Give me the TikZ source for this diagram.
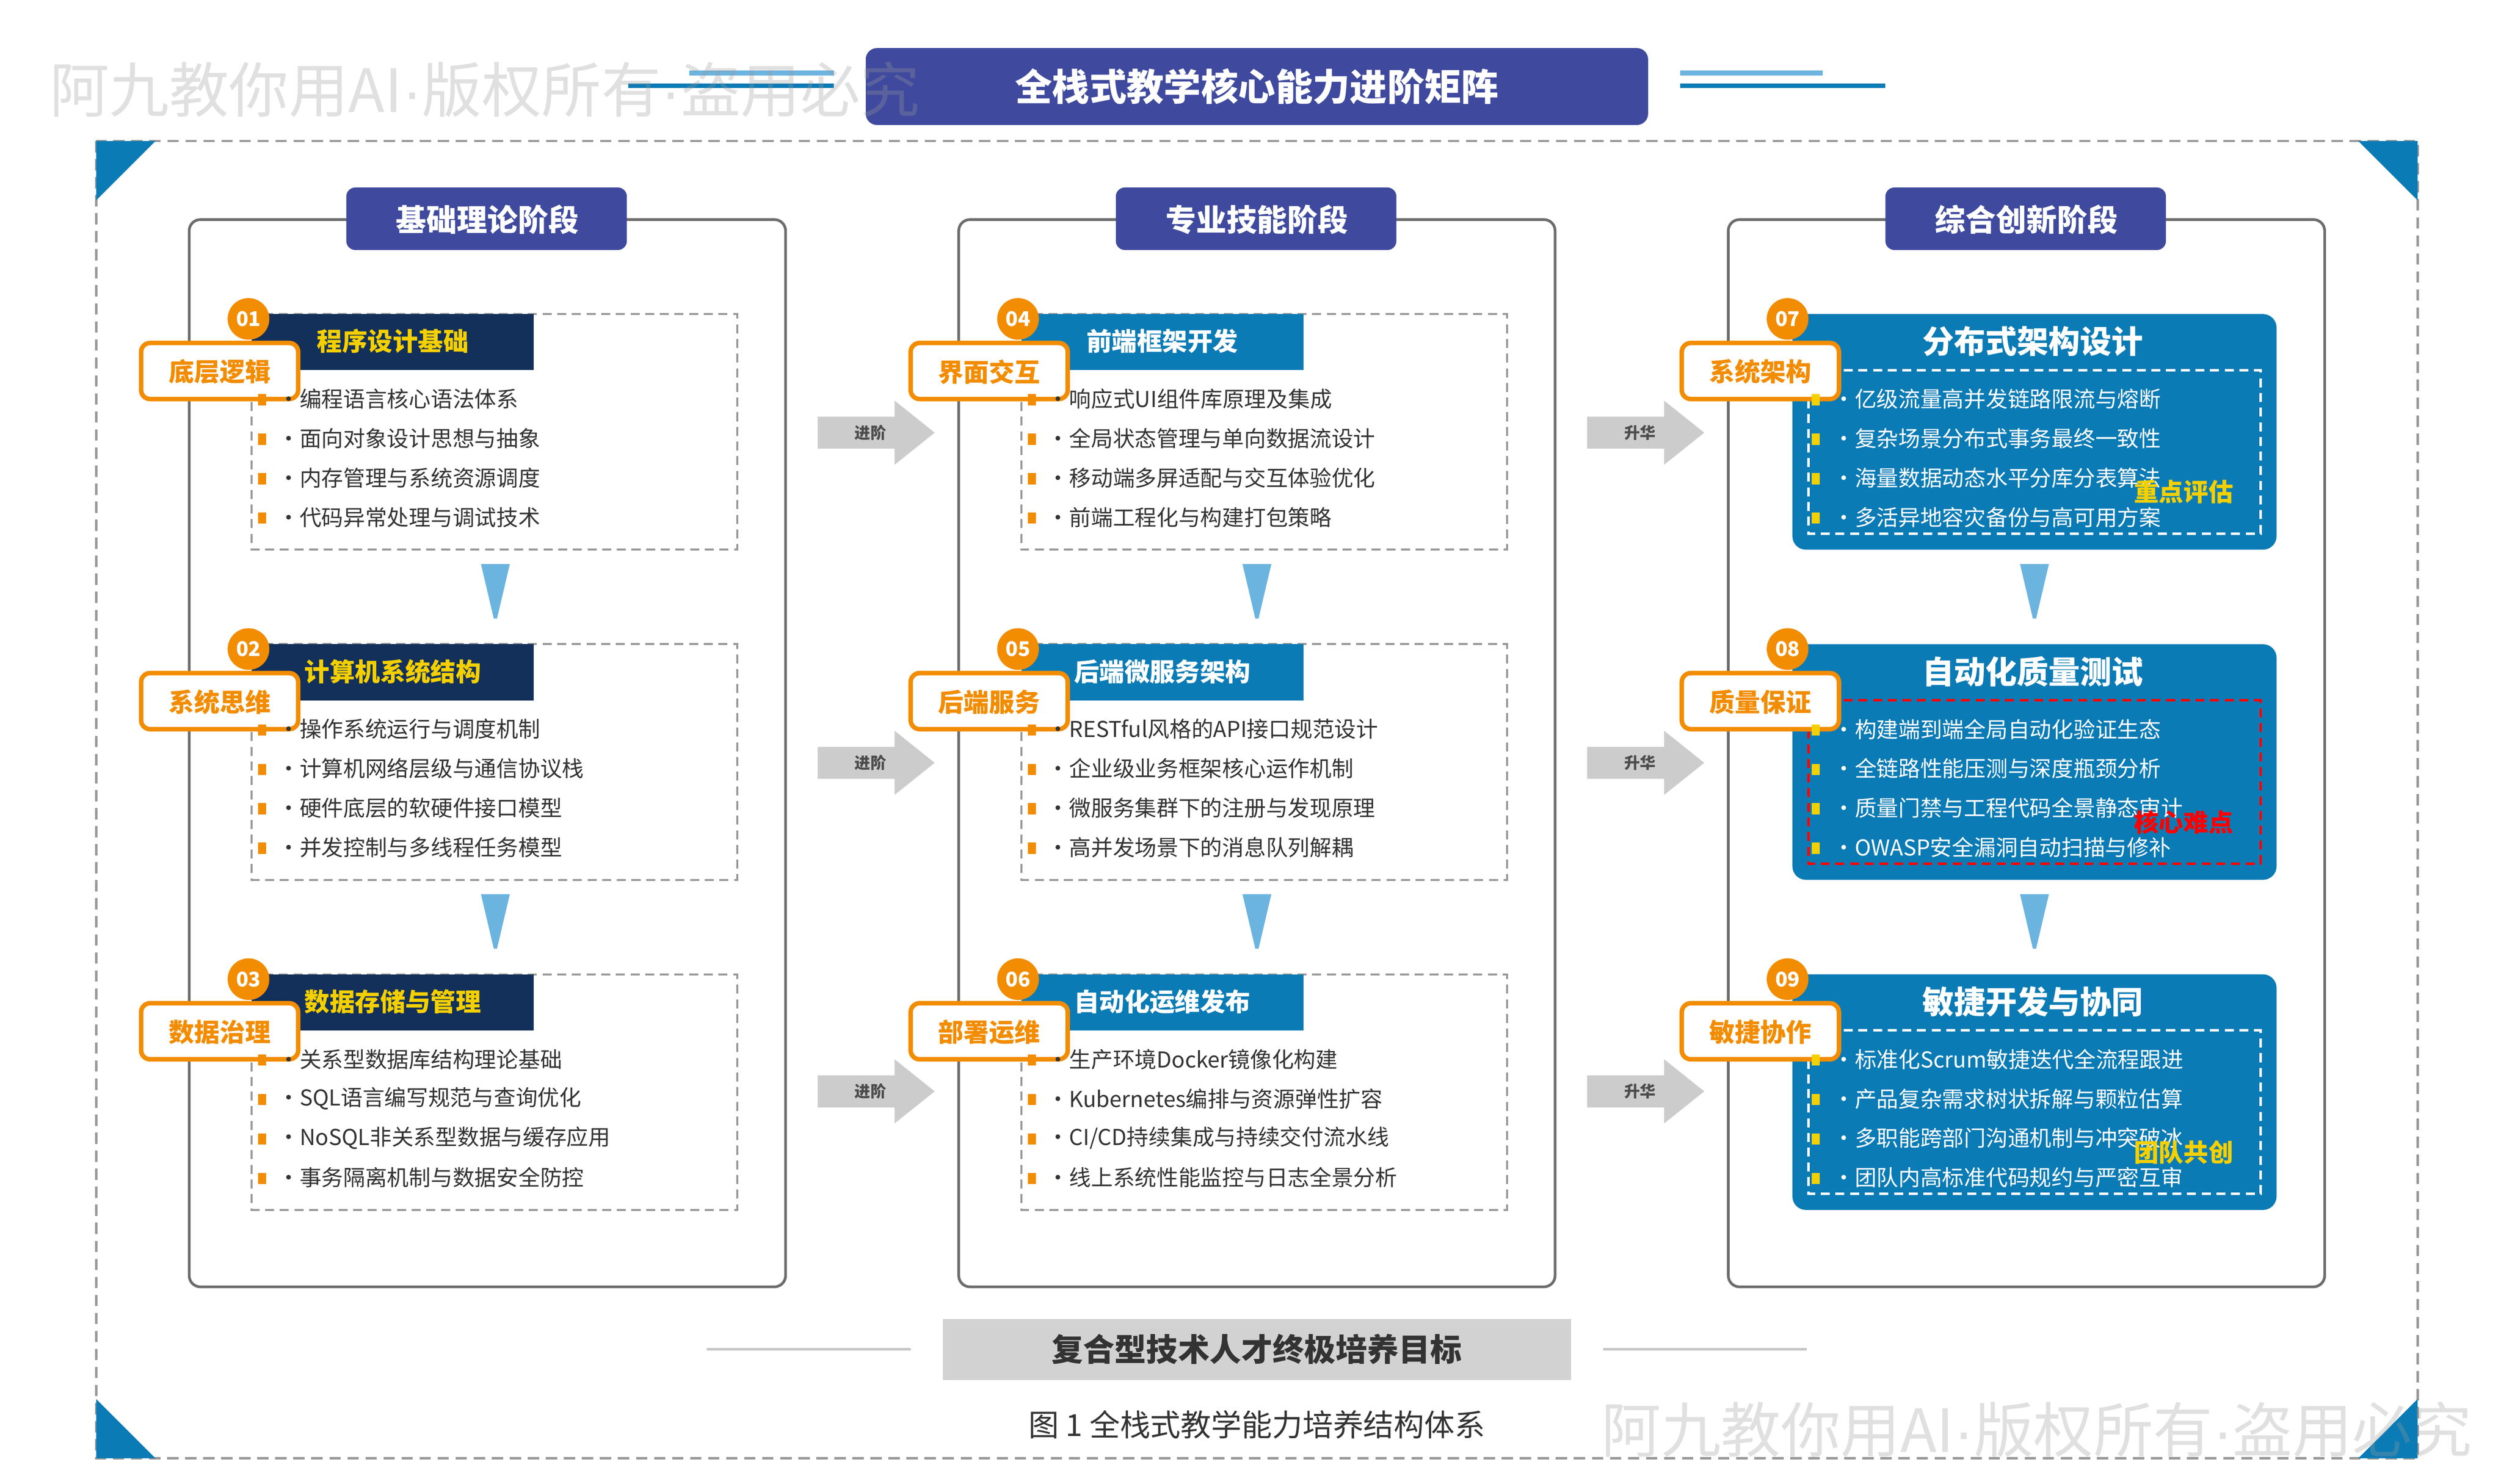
\documentclass[tikz,border=0pt]{standalone}
\usepackage{fontspec}
\setmainfont{Noto Sans CJK SC}
\newfontfamily\latinfont{Liberation Sans}
\newcommand{\wdot}{{\latinfont ·}}
\definecolor{indigo}{HTML}{3F4A9E}
\definecolor{navy}{HTML}{13305A}
\definecolor{cblue}{HTML}{0B7BB5}
\definecolor{lblue}{HTML}{6CB4E0}
\definecolor{orng}{HTML}{F28C00}
\definecolor{ylw}{HTML}{F5D000}
\definecolor{txt}{HTML}{333333}
\definecolor{gframe}{HTML}{999999}
\tikzset{
  panel/.style={draw=gray!85!black,line width=1.2pt,rounded corners=5pt},
  tab/.style={fill=indigo,rounded corners=4pt},
  tabtxt/.style={text=white,font=\fontsize{13.5}{15}\selectfont\bfseries},
  dashbox/.style={draw=gframe,dashed,line width=0.9pt,dash pattern=on 4pt off 2.5pt},
  numc/.style={circle,fill=orng,text=white,inner sep=0pt,minimum size=0.65cm,font=\fontsize{9}{10}\selectfont\bfseries},
  tagbox/.style={draw=orng,line width=2pt,fill=white,rounded corners=4pt},
  tagtxt/.style={text=orng,font=\fontsize{11.3}{13}\selectfont\bfseries},
  item/.style={anchor=west,inner sep=0pt,font=\fontsize{9.7}{11}\selectfont},
  down/.style={fill=lblue},
  chevron/.style={fill=gray!40},
  chevtxt/.style={text=gray!60!black,font=\fontsize{7}{8}\selectfont\bfseries},
  hint/.style={font=\fontsize{11}{12}\selectfont\bfseries},
  wmark/.style={text=black!40,text opacity=0.3,font=\fontsize{26.5}{28}\selectfont}
}
% card of the first two stages
\newcommand{\plaincard}[9]{
  \draw[dashbox] (#1,#2) rectangle ++(303,147);
  \fill[#3] (#1,#2) rectangle ++(176,35);
  \node[text=#4,font=\fontsize{11.2}{13}\selectfont\bfseries] at (#1+88,#2+17) {#6};
  \node[numc] (n#5) at (#1-2,#2+3) {#5};
  \draw[tagbox] (#1-69,#2+18) rectangle ++(98,35);
  \node[tagtxt] (t#5) at (#1-20,#2+36) {#7};
  \foreach \t [count=\k from 0] in {#8} {
    \fill[orng] (#1+4,#2+50+24.6*\k) rectangle ++(5,7);
    \node[item,text=txt] at (#1+16,#2+53+24.6*\k) {·\t};
  }
}
% card of the third stage
\newcommand{\bluecard}[9]{
  \fill[cblue,rounded corners=6pt] (#1,#2) rectangle ++(302,147);
  \node[text=white,font=\fontsize{14}{16}\selectfont\bfseries] at (#1+150,#2+17) {#6};
  \draw[#3,dashed,line width=1.1pt,dash pattern=on 4pt off 2.5pt] (#1+10,#2+35) rectangle ++(282,102);
  \node[numc] (n#5) at (#1-3,#2+3) {#5};
  \draw[tagbox] (#1-69,#2+18) rectangle ++(98,35);
  \node[tagtxt] (t#5) at (#1-20,#2+36) {#7};
  \foreach \t [count=\k from 0] in {#8} {
    \fill[ylw] (#1+12,#2+50+24.6*\k) rectangle ++(5,7);
    \node[item,text=white] at (#1+25,#2+53+24.6*\k) {·\t};
  }
  \node[hint,text=#4] at (#1+244,#2+111) {#9};
}
\begin{document}
\begin{tikzpicture}[x=0.025cm,y=-0.025cm]
\useasboundingbox (0,0) rectangle (1560,926);
% title
\fill[lblue] (430,44) rectangle (520,47);
\fill[cblue] (392,52) rectangle (520,55);
\fill[lblue] (1048,44) rectangle (1137,47);
\fill[cblue] (1048,52) rectangle (1176,55);
\fill[indigo,rounded corners=5pt] (540,30) rectangle (1028,78);
\node[text=white,font=\fontsize{16.5}{19}\selectfont\bfseries] (title) at (784,54) {全栈式教学核心能力进阶矩阵};
% outer frame
\draw[gframe,line width=1pt,dash pattern=on 5pt off 3pt] (60,88) rectangle (1508,910);
\fill[cblue] (60,88) -- (97,88) -- (60,125) -- cycle;
\fill[cblue] (1508,88) -- (1471,88) -- (1508,125) -- cycle;
\fill[cblue] (60,910) -- (97,910) -- (60,873) -- cycle;
\fill[cblue] (1508,910) -- (1471,910) -- (1508,873) -- cycle;
% panels
\foreach \x/\s in {118/基础理论阶段,598/专业技能阶段,1078/综合创新阶段} {
  \draw[panel] (\x,137) rectangle ++(372,666);
  \fill[tab] (\x+98,117) rectangle ++(175,39);
  \node[tabtxt] at (\x+186,137) {\s};
}
% stage 1
\plaincard{157}{196}{navy}{ylw}{01}{程序设计基础}{底层逻辑}{编程语言核心语法体系,面向对象设计思想与抽象,内存管理与系统资源调度,代码异常处理与调试技术}{}
\plaincard{157}{402}{navy}{ylw}{02}{计算机系统结构}{系统思维}{操作系统运行与调度机制,计算机网络层级与通信协议栈,硬件底层的软硬件接口模型,并发控制与多线程任务模型}{}
\plaincard{157}{608}{navy}{ylw}{03}{数据存储与管理}{数据治理}{关系型数据库结构理论基础,SQL语言编写规范与查询优化,NoSQL非关系型数据与缓存应用,事务隔离机制与数据安全防控}{}
% stage 2
\plaincard{637}{196}{cblue}{white}{04}{前端框架开发}{界面交互}{响应式UI组件库原理及集成,全局状态管理与单向数据流设计,移动端多屏适配与交互体验优化,前端工程化与构建打包策略}{}
\plaincard{637}{402}{cblue}{white}{05}{后端微服务架构}{后端服务}{RESTful风格的API接口规范设计,企业级业务框架核心运作机制,微服务集群下的注册与发现原理,高并发场景下的消息队列解耦}{}
\plaincard{637}{608}{cblue}{white}{06}{自动化运维发布}{部署运维}{生产环境Docker镜像化构建,Kubernetes编排与资源弹性扩容,CI/CD持续集成与持续交付流水线,线上系统性能监控与日志全景分析}{}
% stage 3
\bluecard{1118}{196}{white}{ylw}{07}{分布式架构设计}{系统架构}{亿级流量高并发链路限流与熔断,复杂场景分布式事务最终一致性,海量数据动态水平分库分表算法,多活异地容灾备份与高可用方案}{重点评估}
\bluecard{1118}{402}{red}{red}{08}{自动化质量测试}{质量保证}{构建端到端全局自动化验证生态,全链路性能压测与深度瓶颈分析,质量门禁与工程代码全景静态审计,OWASP安全漏洞自动扫描与修补}{核心难点}
\bluecard{1118}{608}{white}{ylw}{09}{敏捷开发与协同}{敏捷协作}{标准化Scrum敏捷迭代全流程跟进,产品复杂需求树状拆解与颗粒估算,多职能跨部门沟通机制与冲突破冰,团队内高标准代码规约与严密互审}{团队共创}
% down arrows
\foreach \x in {309,784,1269} {
  \fill[down] (\x-9,352) -- (\x+9,352) -- (\x+1,386) -- (\x-1,386) -- cycle;
  \fill[down] (\x-9,558) -- (\x+9,558) -- (\x+1,592) -- (\x-1,592) -- cycle;
}
% steps between stages
\foreach \x/\s in {510/进阶,990/升华} {
  \foreach \y in {270,476,681} {
    \fill[chevron] (\x,\y-10) -- (\x+48,\y-10) -- (\x+48,\y-20) -- (\x+73,\y) -- (\x+48,\y+20) -- (\x+48,\y+10) -- (\x,\y+10) -- cycle;
    \node[chevtxt] at (\x+33,\y) {\s};
  }
}
% goal
\draw[gray!45,line width=1.2pt] (441,842) -- (568,842);
\draw[gray!45,line width=1.2pt] (1000,842) -- (1127,842);
\fill[gray!35] (588,823) rectangle (980,861);
\node[text=txt,font=\fontsize{14}{16}\selectfont\bfseries] (goal) at (784,842) {复合型技术人才终极培养目标};
\node[text=txt,font=\fontsize{13.5}{15}\selectfont] (cap) at (784,889) {图 1 全栈式教学能力培养结构体系};
% watermarks
\node[wmark,anchor=west] at (26,56) {阿九教你用AI\wdot 版权所有\wdot 盗用必究};
\node[wmark,anchor=west] at (994,892) {阿九教你用AI\wdot 版权所有\wdot 盗用必究};
\end{tikzpicture}
\end{document}
